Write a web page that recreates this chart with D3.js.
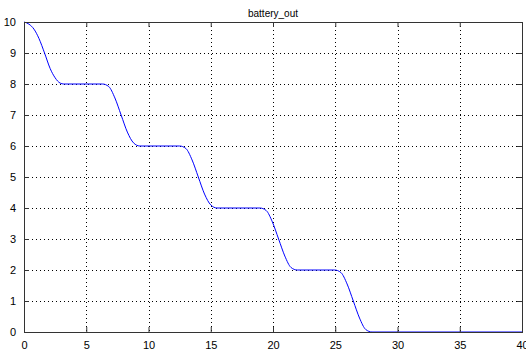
<!DOCTYPE html>
<html>
<head>
<meta charset="utf-8">
<script src="https://cdn.jsdelivr.net/npm/d3@7"></script>
<style>
  html, body { margin: 0; padding: 0; background: #fff; }
  svg { display: block; }
  text { font-family: Arial, "Liberation Sans", Helvetica, sans-serif; fill: #000; }
</style>
</head>
<body>
<svg id="chart" width="526" height="352"></svg>
<script>
// Battery output over time (sampled points)
const timeValues = [
  0, 0.4, 0.8, 1.2, 1.65, 2.1, 2.5, 2.9, 3.2,
  6.3, 6.8, 7.3, 7.8, 8.3, 8.8, 9.3,
  12.5, 13.0, 13.5, 14.0, 14.5, 15.0, 15.5,
  18.95, 19.45, 19.95, 20.45, 20.95, 21.45, 21.95,
  24.95, 25.45, 25.95, 26.45, 26.95, 27.45, 27.95,
  40
];
const batteryValues = [
  10, 9.93, 9.77, 9.47, 9.0, 8.5, 8.2, 8.03, 8.0,
  8.0, 7.92, 7.55, 7.0, 6.45, 6.1, 6.0,
  6.0, 5.92, 5.55, 5.0, 4.45, 4.1, 4.0,
  4.0, 3.92, 3.55, 3.0, 2.45, 2.08, 2.0,
  2.0, 1.92, 1.55, 1.0, 0.45, 0.08, 0.0,
  0
];
const xTicks = [0, 5, 10, 15, 20, 25, 30, 35, 40];
const yTicks = [0, 1, 2, 3, 4, 5, 6, 7, 8, 9, 10];
const chartTitle = "battery_out";

const svg = d3.select("#chart");
const plotLeft = 24, plotRight = 522, plotTop = 22, plotBottom = 332;

const x = d3.scaleLinear().domain([0, 40]).range([plotLeft, plotRight]);
const y = d3.scaleLinear().domain([0, 10]).range([plotBottom, plotTop]);

// dotted grid
const grid = svg.append("g").attr("stroke", "#000").attr("stroke-width", 1)
  .attr("stroke-dasharray", "1,3");
grid.selectAll(".vg").data(xTicks.slice(1, -1)).join("line")
  .attr("x1", d => Math.round(x(d)) + 0.5).attr("x2", d => Math.round(x(d)) + 0.5)
  .attr("y1", plotTop).attr("y2", plotBottom);
grid.selectAll(".hg").data(yTicks.slice(1, -1)).join("line")
  .attr("y1", d => Math.round(y(d)) + 0.5).attr("y2", d => Math.round(y(d)) + 0.5)
  .attr("x1", plotLeft).attr("x2", plotRight);

// data line
const pts = timeValues.map((t, i) => [t, batteryValues[i]]);
svg.append("path")
  .datum(pts)
  .attr("fill", "none")
  .attr("stroke", "#0000ff")
  .attr("stroke-width", 1)
  .attr("d", d3.line().x(d => x(d[0])).y(d => y(d[1])).curve(d3.curveMonotoneX));

// axes with inward ticks on all four sides
const axisColor = "#333";
function styleAxis(g) {
  g.select(".domain").remove();
  g.selectAll(".tick line").attr("stroke", axisColor);
  g.selectAll(".tick text").style("font-size", "11px").style("font-family", "Arial, 'Liberation Sans', sans-serif").attr("fill", "#000");
}
svg.append("g").attr("transform", `translate(0,${plotBottom})`)
  .call(d3.axisBottom(x).tickValues(xTicks).tickFormat(d3.format("d")).tickSizeInner(-5).tickPadding(9))
  .call(styleAxis);
svg.append("g").attr("transform", `translate(0,${plotTop})`)
  .call(d3.axisTop(x).tickValues(xTicks).tickFormat("").tickSizeInner(-5))
  .call(styleAxis);
svg.append("g").attr("transform", `translate(${plotLeft},0)`)
  .call(d3.axisLeft(y).tickValues(yTicks).tickFormat(d3.format("d")).tickSizeInner(-5).tickPadding(8))
  .call(styleAxis);
svg.append("g").attr("transform", `translate(${plotRight},0)`)
  .call(d3.axisRight(y).tickValues(yTicks).tickFormat("").tickSizeInner(-5))
  .call(styleAxis);

// box
svg.append("rect")
  .attr("x", plotLeft + 0.5).attr("y", plotTop + 0.5)
  .attr("width", plotRight - plotLeft).attr("height", plotBottom - plotTop)
  .attr("fill", "none").attr("stroke", axisColor).attr("stroke-width", 1);

// title
svg.append("text")
  .attr("x", (plotLeft + plotRight) / 2).attr("y", 17)
  .attr("text-anchor", "middle")
  .style("font-size", "10px")
  .text(chartTitle);
</script>
</body>
</html>
